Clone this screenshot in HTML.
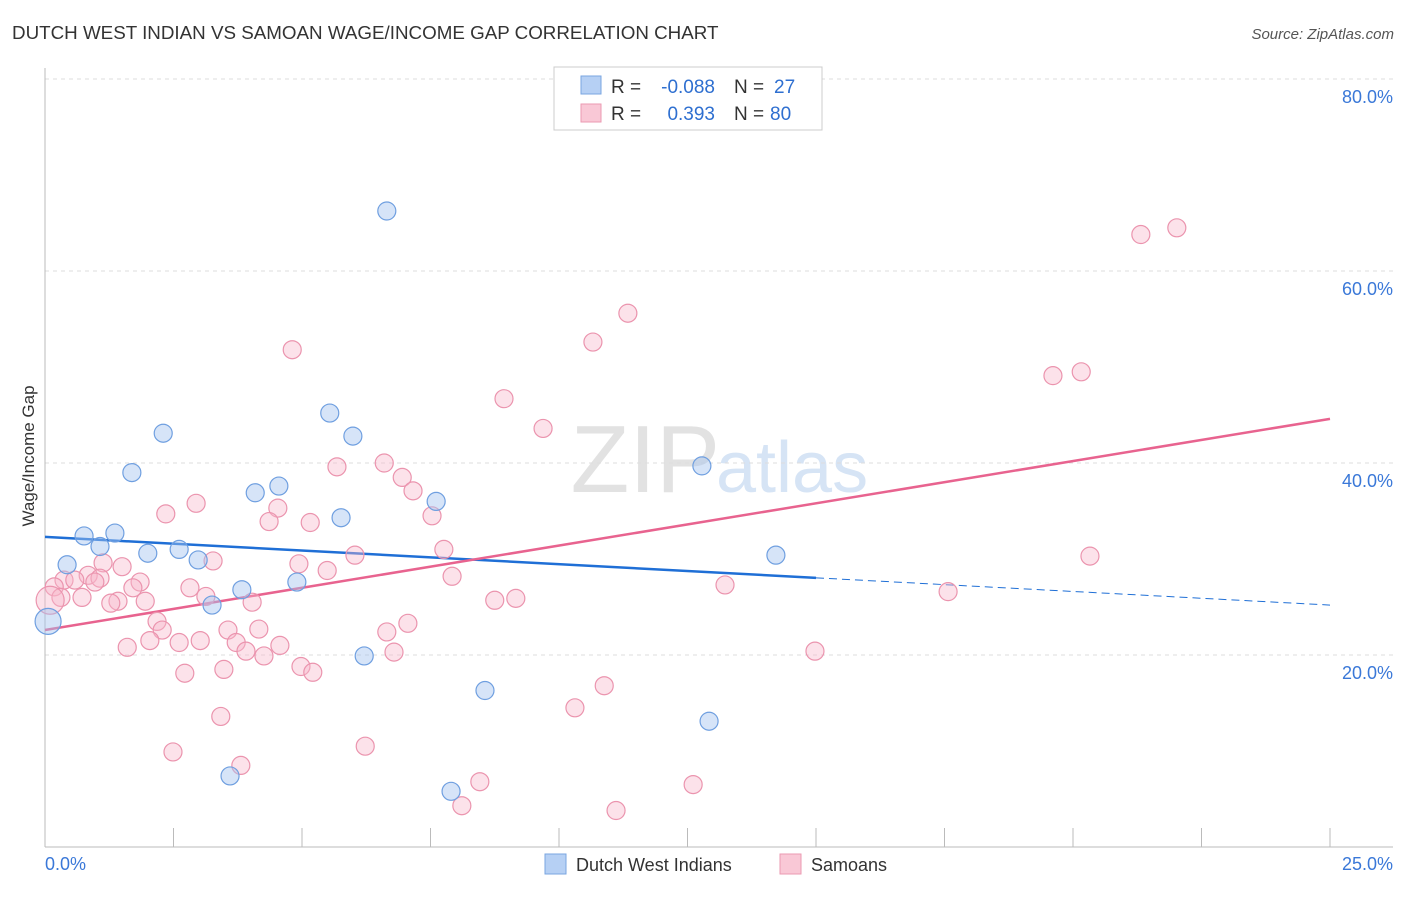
<!DOCTYPE html>
<html><head><meta charset="utf-8"><style>
body{margin:0;background:#fff;font-family:"Liberation Sans",sans-serif;}
svg text{font-family:"Liberation Sans",sans-serif;}
</style></head><body>
<svg id="chart" width="1406" height="892">
<text x="12" y="39" font-size="18.8" fill="#333">DUTCH WEST INDIAN VS SAMOAN WAGE/INCOME GAP CORRELATION CHART</text>
<text x="1394" y="39" font-size="15" fill="#555" font-style="italic" text-anchor="end">Source: ZipAtlas.com</text>
<text x="720" y="492" font-size="96" fill="#e2e2e2" text-anchor="end" font-family="Liberation Serif">ZIP</text>
<text x="716" y="492" font-size="72" fill="#d6e4f5">atlas</text>
<g id="grid"></g><g id="axes"></g><g id="lines"></g><g id="pts"></g>
<text transform="translate(34,456) rotate(-90)" font-size="17" fill="#333" text-anchor="middle">Wage/Income Gap</text>
<g>
<rect x="554" y="67" width="268" height="63" fill="#fff" stroke="#ccc"/>
<rect x="581" y="76" width="20" height="18" fill="#b6d0f4" stroke="#7aa6e0"/>
<rect x="581" y="104" width="20" height="18" fill="#f9c8d6" stroke="#eb9ab2"/>
<text x="611" y="93" font-size="19" fill="#333">R =</text>
<text x="715" y="93" font-size="19" fill="#2e6fd0" text-anchor="end">-0.088</text>
<text x="734" y="93" font-size="19" fill="#333">N =</text>
<text x="774" y="93" font-size="19" fill="#2e6fd0">27</text>
<text x="611" y="120" font-size="19" fill="#333">R =</text>
<text x="715" y="120" font-size="19" fill="#2e6fd0" text-anchor="end">0.393</text>
<text x="734" y="120" font-size="19" fill="#333">N =</text>
<text x="770" y="120" font-size="19" fill="#2e6fd0">80</text>
</g>
<g>
<rect x="545" y="854" width="21" height="20" fill="#b6d0f4" stroke="#7aa6e0"/>
<text x="576" y="871" font-size="18" fill="#333">Dutch West Indians</text>
<rect x="780" y="854" width="21" height="20" fill="#f9c8d6" stroke="#eb9ab2"/>
<text x="811" y="871" font-size="18" fill="#333">Samoans</text>
</g>
</svg>
<script>
const blueX=[6.65,2.30,5.54,5.99,1.69,4.09,4.55,5.76,7.61,12.78,0.76,1.36,0.43,1.07,2.00,2.61,2.98,14.22,3.83,4.90,3.25,6.21,8.56,12.92,3.60,7.90,0.06];
const blueY=[66.25,43.1,45.2,42.8,39.0,36.9,37.6,34.3,36.0,39.7,32.4,32.7,29.4,31.3,30.6,31.0,29.9,30.4,26.8,27.6,25.2,19.9,16.3,13.1,7.4,5.8,23.5];
const pinkX=[22.02,21.32,11.34,10.66,4.81,19.61,20.16,8.93,9.69,6.60,5.68,6.95,7.16,2.94,2.35,4.53,4.36,5.16,7.53,7.76,6.03,20.33,3.27,4.94,5.49,7.92,1.13,1.50,0.84,1.07,0.37,0.58,0.97,1.85,2.82,1.71,0.18,0.31,0.72,1.42,1.28,1.95,3.13,4.03,13.23,17.57,8.75,9.16,2.18,2.28,3.56,4.16,6.65,7.06,2.04,2.61,3.02,1.60,3.72,3.91,4.57,4.26,6.79,14.98,4.98,5.21,2.72,3.48,10.88,10.31,3.42,2.49,6.23,3.81,8.46,8.11,12.61,11.11,0.10];
const pinkY=[64.5,63.8,55.6,52.6,51.8,49.1,49.5,46.7,43.6,40.0,39.6,38.5,37.1,35.8,34.7,35.3,33.9,33.8,34.5,31.0,30.4,30.3,29.8,29.5,28.8,28.2,29.6,29.2,28.3,28.0,27.8,27.8,27.6,27.6,27.0,27.0,27.1,26.0,26.0,25.6,25.4,25.6,26.1,25.5,27.3,26.6,25.7,25.9,23.5,22.6,22.6,22.7,22.4,23.3,21.5,21.3,21.5,20.8,21.3,20.4,21.0,19.9,20.3,20.4,18.8,18.2,18.1,18.5,16.8,14.5,13.6,9.9,10.5,8.5,6.8,4.3,6.5,3.8,25.7];
const blueLine=[32.3,25.2];
const blueSolidEnd=15;
const pinkLine=[22.6,44.6];
const yTicks=[20,40,60,80];
const yTickLabels=["20.0%","40.0%","60.0%","80.0%"];
const xTicks=[0,2.5,5,7.5,10,12.5,15,17.5,20,22.5,25];
const NS="http://www.w3.org/2000/svg";
const X=v=>45+v/25*1285, Y=v=>847-v*9.6;
function mk(p,t,a){const e=document.createElementNS(NS,t);for(const k in a)e.setAttribute(k,a[k]);document.getElementById(p).appendChild(e);return e;}
yTicks.forEach((t,i)=>{
 const l=mk('grid','line',{x1:45,x2:1393,y1:Y(t),y2:Y(t),stroke:'#ddd','stroke-dasharray':'4,4'});
 
 
 const tx=mk('grid','text',{x:1393,y:Y(t)+24,'font-size':18,fill:'#3a78d8','text-anchor':'end'});
 tx.textContent=yTickLabels[i];
 
 
});
const ax=mk('axes','line',{x1:45,x2:45,y1:68,y2:847,stroke:'#bbb'});


const bx=mk('axes','line',{x1:45,x2:1393,y1:847,y2:847,stroke:'#bbb'});


xTicks.forEach(t=>{const l=mk('axes','line',{x1:X(t),x2:X(t),y1:828,y2:847,stroke:'#bbb'});
 
 });
const x0=mk('axes','text',{x:45,y:870,'font-size':18,fill:'#3a78d8'});x0.textContent='0.0%';


const x1=mk('axes','text',{x:1393,y:870,'font-size':18,fill:'#3a78d8','text-anchor':'end'});x1.textContent='25.0%';


function ly(l,x){return l[0]+(l[1]-l[0])*x/25;}
pinkX.forEach((x,i)=>{const c=mk('pts','circle',{cx:X(x),cy:Y(pinkY[i]),r:i==pinkX.length-1?14:9,fill:'rgba(248,182,202,0.4)',stroke:'#eb94ae','stroke-width':1.2});
 
 });
blueX.forEach((x,i)=>{const c=mk('pts','circle',{cx:X(x),cy:Y(blueY[i]),r:i==blueX.length-1?13:9,fill:'rgba(164,196,240,0.45)',stroke:'#6f9fe0','stroke-width':1.2});
 
 });
const b1=mk('lines','line',{x1:X(0),y1:Y(ly(blueLine,0)),x2:X(blueSolidEnd),y2:Y(ly(blueLine,blueSolidEnd)),stroke:'#1f6fd6','stroke-width':2.5});


const b2=mk('lines','line',{x1:X(blueSolidEnd),y1:Y(ly(blueLine,blueSolidEnd)),x2:X(25),y2:Y(ly(blueLine,25)),stroke:'#1f6fd6','stroke-width':1,'stroke-dasharray':'8,5'});


const p1=mk('lines','line',{x1:X(0),y1:Y(ly(pinkLine,0)),x2:X(25),y2:Y(ly(pinkLine,25)),stroke:'#e8638f','stroke-width':2.5});


</script>
</body></html>
